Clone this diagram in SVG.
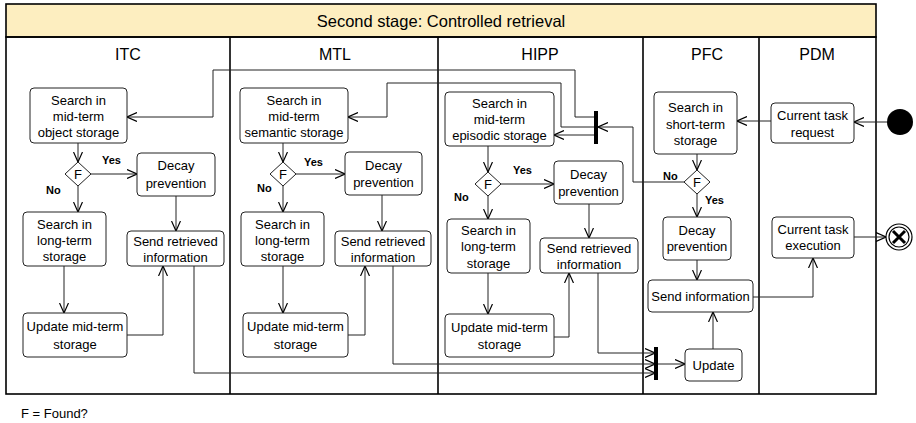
<svg xmlns="http://www.w3.org/2000/svg" width="916" height="423" viewBox="0 0 916 423">
<style>
text{font-family:"Liberation Sans",Arial,sans-serif;fill:#000}
.t{font-size:13px;text-anchor:middle}
.h{font-size:16px;text-anchor:middle}
.b{font-size:11px;font-weight:bold}
.n rect{fill:#fff;stroke:#222;stroke-width:1}
.n polygon{fill:#fff;stroke:#222;stroke-width:1}
.c path{fill:none;stroke:#222;stroke-width:1}
.lane{fill:none;stroke:#000;stroke-width:1.6}
</style>
<defs>
<marker id="a" viewBox="0 0 10 10" refX="10" refY="5" markerWidth="10" markerHeight="10" markerUnits="userSpaceOnUse" orient="auto">
<path d="M0,0.5 L10,5 L0,9.5" fill="none" stroke="#000" stroke-width="1.2"/>
</marker>
</defs>
<rect x="0" y="0" width="916" height="423" fill="#fff"/>
<g id="frame">
<rect x="6" y="4" width="870" height="33" fill="#fdeec0" stroke="#000" stroke-width="1.6"/>
<rect x="6" y="37" width="870" height="357" class="lane"/>
<line x1="230" y1="37" x2="230" y2="394" stroke="#000" stroke-width="1.6"/>
<line x1="438" y1="37" x2="438" y2="394" stroke="#000" stroke-width="1.6"/>
<line x1="643" y1="37" x2="643" y2="394" stroke="#000" stroke-width="1.6"/>
<line x1="759" y1="37" x2="759" y2="394" stroke="#000" stroke-width="1.6"/>
<text x="441" y="27" class="h" style="font-size:16.5px">Second stage: Controlled retrieval</text>
<text x="128" y="60" class="h">ITC</text>
<text x="335" y="60" class="h">MTL</text>
<text x="540" y="60" class="h">HIPP</text>
<text x="707" y="60" class="h">PFC</text>
<text x="817" y="60" class="h">PDM</text>
</g>
<g class="c" id="connectors">
<!-- ITC -->
<path d="M78,143 V162" marker-end="url(#a)"/>
<path d="M91,174 H137" marker-end="url(#a)"/>
<path d="M78,186 V212" marker-end="url(#a)"/>
<path d="M176,196 V231" marker-end="url(#a)"/>
<path d="M64,266 V313" marker-end="url(#a)"/>
<path d="M127,335 H163 V266" marker-end="url(#a)"/>
<path d="M194,266 V373 H655" marker-end="url(#a)"/>
<!-- MTL -->
<path d="M283,143 V162" marker-end="url(#a)"/>
<path d="M296,174 H345" marker-end="url(#a)"/>
<path d="M283,186 V212" marker-end="url(#a)"/>
<path d="M382,195 V231" marker-end="url(#a)"/>
<path d="M283,266 V313" marker-end="url(#a)"/>
<path d="M348,335 H365 V266" marker-end="url(#a)"/>
<path d="M393,266 V364 H655" marker-end="url(#a)"/>
<!-- HIPP -->
<path d="M488,146 V172" marker-end="url(#a)"/>
<path d="M501,184 H554" marker-end="url(#a)"/>
<path d="M488,196 V219" marker-end="url(#a)"/>
<path d="M589,204 V238" marker-end="url(#a)"/>
<path d="M488,273 V314" marker-end="url(#a)"/>
<path d="M554,337 H569 V273" marker-end="url(#a)"/>
<path d="M598,273 V353 H655" marker-end="url(#a)"/>
<!-- fork -->
<path d="M594,117 H575 V70 H213 V117 H127" marker-end="url(#a)"/>
<path d="M594,127 H561 V83 H387 V117 H348" marker-end="url(#a)"/>
<path d="M594,135 H554" marker-end="url(#a)"/>
<path d="M684,182 H633 V127 H598" marker-end="url(#a)"/>
<!-- PFC / PDM -->
<path d="M887,122 H854" marker-end="url(#a)"/>
<path d="M771,121 H737" marker-end="url(#a)"/>
<path d="M697,154 V170" marker-end="url(#a)"/>
<path d="M697,194 V217" marker-end="url(#a)"/>
<path d="M697,260 V280" marker-end="url(#a)"/>
<path d="M753,297 H813 V258" marker-end="url(#a)"/>
<path d="M854,237 H886" marker-end="url(#a)"/>
<path d="M658,364 H685" marker-end="url(#a)"/>
<path d="M713,349 V312" marker-end="url(#a)"/>
</g>
<!-- ITC nodes -->
<g class="n" id="itc-search-mid">
<rect x="30" y="88" width="97" height="55" rx="4"/>
<text x="78.5" y="105" class="t">Search in</text>
<text x="78.5" y="121" class="t">mid-term</text>
<text x="78.5" y="137" class="t">object storage</text>
</g>
<g class="n" id="itc-found">
<polygon points="78,162 91,174 78,186 65,174"/>
<text x="78" y="179" class="t">F</text>
<text x="102" y="164" class="b">Yes</text>
<text x="46" y="194" class="b">No</text>
</g>
<g class="n" id="itc-decay">
<rect x="137" y="153" width="78" height="43" rx="4"/>
<text x="176" y="170" class="t">Decay</text>
<text x="176" y="188" class="t">prevention</text>
</g>
<g class="n" id="itc-search-long">
<rect x="23" y="212" width="83" height="54" rx="4"/>
<text x="64.5" y="229" class="t">Search in</text>
<text x="64.5" y="245" class="t">long-term</text>
<text x="64.5" y="261" class="t">storage</text>
</g>
<g class="n" id="itc-send">
<rect x="127" y="231" width="97" height="35" rx="4"/>
<text x="175.5" y="246" class="t">Send retrieved</text>
<text x="175.5" y="262" class="t">information</text>
</g>
<g class="n" id="itc-update">
<rect x="23" y="313" width="104" height="44" rx="4"/>
<text x="75" y="331" class="t">Update mid-term</text>
<text x="75" y="349" class="t">storage</text>
</g>
<!-- MTL nodes -->
<g class="n" id="mtl-search-mid">
<rect x="240" y="88" width="108" height="55" rx="4"/>
<text x="294" y="105" class="t">Search in</text>
<text x="294" y="121" class="t">mid-term</text>
<text x="294" y="137" class="t">semantic storage</text>
</g>
<g class="n" id="mtl-found">
<polygon points="283,162 296,174 283,186 270,174"/>
<text x="283" y="179" class="t">F</text>
<text x="304" y="166" class="b">Yes</text>
<text x="257" y="192" class="b">No</text>
</g>
<g class="n" id="mtl-decay">
<rect x="345" y="152" width="77" height="43" rx="4"/>
<text x="383.5" y="170" class="t">Decay</text>
<text x="383.5" y="187" class="t">prevention</text>
</g>
<g class="n" id="mtl-search-long">
<rect x="241" y="212" width="83" height="54" rx="4"/>
<text x="282.5" y="229" class="t">Search in</text>
<text x="282.5" y="245" class="t">long-term</text>
<text x="282.5" y="261" class="t">storage</text>
</g>
<g class="n" id="mtl-send">
<rect x="335" y="231" width="96" height="35" rx="4"/>
<text x="383" y="246" class="t">Send retrieved</text>
<text x="383" y="262" class="t">information</text>
</g>
<g class="n" id="mtl-update">
<rect x="243" y="313" width="105" height="44" rx="4"/>
<text x="295.5" y="331" class="t">Update mid-term</text>
<text x="295.5" y="349" class="t">storage</text>
</g>
<!-- HIPP nodes -->
<g class="n" id="hipp-search-mid">
<rect x="445" y="92" width="109" height="54" rx="4"/>
<text x="499.5" y="108" class="t">Search in</text>
<text x="499.5" y="124" class="t">mid-term</text>
<text x="499.5" y="140" class="t">episodic storage</text>
</g>
<g class="n" id="hipp-found">
<polygon points="488,172 501,184 488,196 475,184"/>
<text x="488" y="189" class="t">F</text>
<text x="513" y="174" class="b">Yes</text>
<text x="454" y="201" class="b">No</text>
</g>
<g class="n" id="hipp-decay">
<rect x="554" y="161" width="69" height="43" rx="4"/>
<text x="588.5" y="179" class="t">Decay</text>
<text x="588.5" y="196" class="t">prevention</text>
</g>
<g class="n" id="hipp-search-long">
<rect x="447" y="219" width="83" height="54" rx="4"/>
<text x="488.5" y="235" class="t">Search in</text>
<text x="488.5" y="251" class="t">long-term</text>
<text x="488.5" y="268" class="t">storage</text>
</g>
<g class="n" id="hipp-send">
<rect x="540" y="238" width="98" height="35" rx="4"/>
<text x="589" y="253" class="t">Send retrieved</text>
<text x="589" y="269" class="t">information</text>
</g>
<g class="n" id="hipp-update">
<rect x="445" y="314" width="109" height="43" rx="4"/>
<text x="499.5" y="332" class="t">Update mid-term</text>
<text x="499.5" y="349" class="t">storage</text>
</g>
<!-- fork / join bars -->
<g id="fork"><rect x="594" y="111" width="4" height="33" fill="#000"/></g>
<g id="join"><rect x="654" y="347" width="4" height="33" fill="#000"/></g>
<!-- PFC nodes -->
<g class="n" id="pfc-search-short">
<rect x="654" y="92" width="83" height="62" rx="4"/>
<text x="695.5" y="112" class="t">Search in</text>
<text x="695.5" y="129" class="t">short-term</text>
<text x="695.5" y="145" class="t">storage</text>
</g>
<g class="n" id="pfc-found">
<polygon points="697,170 710,182 697,194 684,182"/>
<text x="697" y="187" class="t">F</text>
<text x="663" y="180" class="b">No</text>
<text x="705" y="204" class="b">Yes</text>
</g>
<g class="n" id="pfc-decay">
<rect x="663" y="217" width="68" height="43" rx="4"/>
<text x="697" y="235" class="t">Decay</text>
<text x="697" y="251" class="t">prevention</text>
</g>
<g class="n" id="pfc-send">
<rect x="648" y="280" width="105" height="32" rx="4"/>
<text x="700.5" y="301" class="t">Send information</text>
</g>
<g class="n" id="pfc-update">
<rect x="685" y="349" width="57" height="32" rx="4"/>
<text x="713.5" y="370" class="t">Update</text>
</g>
<!-- PDM nodes -->
<g class="n" id="pdm-request">
<rect x="771" y="103" width="83" height="40" rx="4"/>
<text x="812.5" y="120" class="t">Current task</text>
<text x="812.5" y="137" class="t">request</text>
</g>
<g class="n" id="pdm-execution">
<rect x="772" y="217" width="82" height="41" rx="4"/>
<text x="813" y="234" class="t">Current task</text>
<text x="813" y="250" class="t">execution</text>
</g>
<g id="start"><circle cx="900" cy="122" r="13" fill="#000"/></g>
<g id="end">
<circle cx="899" cy="237" r="13" fill="#fff" stroke="#000" stroke-width="1.2"/>
<circle cx="899" cy="237" r="10" fill="#fff" stroke="#000" stroke-width="1.2"/>
<path d="M893,231 L905,243 M905,231 L893,243" stroke="#000" stroke-width="3"/>
</g>
<text x="21" y="418" style="font-size:13px">F = Found?</text>
</svg>
